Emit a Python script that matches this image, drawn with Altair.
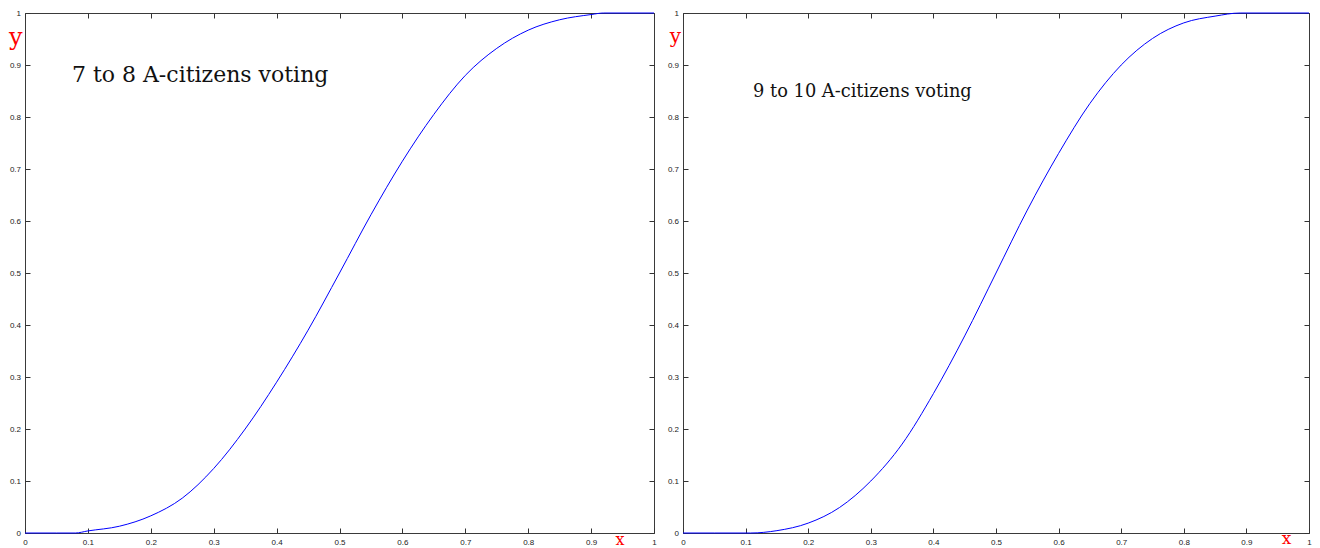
import altair as alt
import pandas as pd

# ---- data ----
x_left = [0, 0.05, 0.08, 0.1, 0.15, 0.2, 0.25, 0.3, 0.35, 0.4, 0.45, 0.5,
          0.55, 0.6, 0.65, 0.7, 0.75, 0.8, 0.85, 0.9, 0.92, 1.0]
y_left = [0, 0, 0, 0.004, 0.013, 0.033, 0.067, 0.124, 0.2, 0.29, 0.39, 0.5,
          0.612, 0.715, 0.805, 0.88, 0.932, 0.967, 0.987, 0.997, 1.0, 1.0]

x_right = [0, 0.05, 0.108, 0.15, 0.2, 0.25, 0.3, 0.35, 0.4, 0.45, 0.5,
           0.55, 0.6, 0.65, 0.7, 0.75, 0.8, 0.85, 0.89, 1.0]
y_right = [0, 0, 0, 0.0045, 0.019, 0.049, 0.1, 0.171, 0.268, 0.379, 0.5,
           0.621, 0.73, 0.826, 0.9, 0.951, 0.981, 0.994, 1.0, 1.0]

tick_values = [0, 0.1, 0.2, 0.3, 0.4, 0.5, 0.6, 0.7, 0.8, 0.9, 1.0]

note_left = "7 to 8 A-citizens voting"
note_right = "9 to 10 A-citizens voting"
note_left_pos = [0.0746, 0.868]
note_right_pos = [0.112, 0.839]

H = 520
LABEL_FONT = "Liberation Sans"
SERIF = "DejaVu Serif"


def panel(xs, ys, note, npos, note_size, W, ytx, yty, ysize, xtx, xty, xsize):
    df = pd.DataFrame({"x": xs, "y": ys})
    sx = alt.Scale(domain=[0, 1], nice=False, zero=False)
    sy = alt.Scale(domain=[0, 1], nice=False, zero=False)
    common = dict(offset=-5, tickSize=5, domain=False, grid=False,
                  tickColor="#333333", tickWidth=1, values=tick_values,
                  labelFlush=False, labelOverlap=False)
    ax_bottom = alt.Axis(orient="bottom", labelFont=LABEL_FONT, labelFontSize=8,
                         labelColor="#222222", labelPadding=5, format="~g",
                         title="x", titleColor="#ff0000", titleFont=SERIF,
                         titleFontSize=xsize, titleFontWeight="normal",
                         titleAlign="center", titleBaseline="alphabetic",
                         titleX=xtx, titleY=xty, **common)
    ax_left = alt.Axis(orient="left", labelFont=LABEL_FONT, labelFontSize=8,
                       labelColor="#222222", labelPadding=4.5, format="~g",
                       title="y", titleColor="#ff0000", titleFont=SERIF,
                       titleFontSize=ysize, titleFontWeight="normal",
                       titleAngle=0, titleAlign="left", titleBaseline="alphabetic",
                       titleX=ytx, titleY=yty, **common)
    ax_top = alt.Axis(orient="top", labels=False, title=None, **common)
    ax_right = alt.Axis(orient="right", labels=False, title=None, **common)

    line = alt.Chart(df).mark_line(color="#0000ff", strokeWidth=1,
                                   interpolate="monotone").encode(
        x=alt.X("x:Q", scale=sx, axis=ax_bottom),
        y=alt.Y("y:Q", scale=sy, axis=ax_left),
    )
    line2 = alt.Chart(df).mark_line(opacity=0).encode(
        x=alt.X("x:Q", scale=sx, axis=ax_top),
        y=alt.Y("y:Q", scale=sy, axis=ax_right),
    )
    tdf = pd.DataFrame({"x": [npos[0]], "y": [npos[1]], "t": [note]})
    text = alt.Chart(tdf).mark_text(align="left", baseline="alphabetic",
                                    font=SERIF, fontSize=note_size,
                                    color="#111111").encode(
        x=alt.X("x:Q", scale=sx, axis=None),
        y=alt.Y("y:Q", scale=sy, axis=None),
        text="t:N",
    )
    return alt.layer(line, line2, text).resolve_axis(
        x="independent", y="independent"
    ).properties(width=W, height=H)


left = panel(x_left, y_left, note_left, note_left_pos, 22, 629,
             -21.4, 31.8, 24, 594.4, 16, 16)
right = panel(x_right, y_right, note_right, note_right_pos, 17.8, 626,
              -18.7, 29.8, 20, 603, 15.5, 17)

chart = alt.hconcat(left, right, spacing=29, bounds="flush").properties(
    padding={"left": 0, "top": 0, "right": 0, "bottom": 0}
).configure_view(stroke="#3a3a3a", strokeWidth=1)

chart.save("out.html", embed_options={"renderer": "svg", "actions": False})
